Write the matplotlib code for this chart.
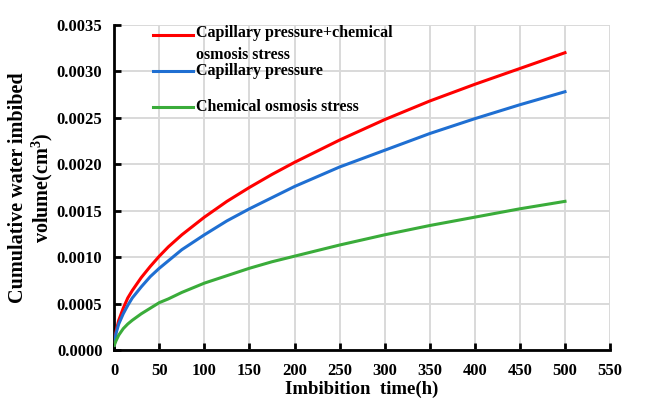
import matplotlib
matplotlib.use("Agg")
import matplotlib.pyplot as plt
from matplotlib.ticker import FormatStrFormatter, MultipleLocator

plt.rcParams['font.family'] = ['Liberation Serif', 'DejaVu Serif']
plt.rcParams['font.weight'] = 'bold'
plt.rcParams['mathtext.fontset'] = 'custom'
plt.rcParams['mathtext.rm'] = 'Liberation Serif:bold'
plt.rcParams['mathtext.default'] = 'rm'

time_h = [0, 2, 5, 10, 15, 20, 30, 40, 50, 60, 75, 100, 125, 150, 175, 200, 250, 300, 350, 400, 450, 500]
cap_chem = [0.00005, 0.00020, 0.00032, 0.00045, 0.00056, 0.00064, 0.00078, 0.00090, 0.00101, 0.00111,
            0.00124, 0.00143, 0.00160, 0.00175, 0.00189, 0.00202, 0.00226, 0.00248, 0.00268, 0.00286,
            0.00303, 0.00320]
cap = [0.00005, 0.00018, 0.00028, 0.00039, 0.00048, 0.00056, 0.00068, 0.00079, 0.00088, 0.00096,
       0.00108, 0.00124, 0.00139, 0.00152, 0.00164, 0.00176, 0.00197, 0.00215, 0.00233, 0.00249,
       0.00264, 0.00278]
chem = [0.00005, 0.00010, 0.00016, 0.00023, 0.00028, 0.00032, 0.00039, 0.00045, 0.00051, 0.00055,
        0.00062, 0.00072, 0.00080, 0.00088, 0.00095, 0.00101, 0.00113, 0.00124, 0.00134, 0.00143,
        0.00152, 0.00160]

labels = ["Capillary pressure+chemical\nosmosis stress", "Capillary pressure", "Chemical osmosis stress"]
colors = ["#ff0000", "#1f6fd2", "#3aac3a"]

fig = plt.figure(figsize=(6.49, 4.07), dpi=100)
ax = fig.add_axes([0.176, 0.14, 0.764, 0.799])

for y, c in zip([cap_chem, cap, chem], colors):
    ax.plot(time_h, y, color=c, lw=2.2, zorder=3)

ax.set_xlim(0, 550)
ax.set_ylim(0, 0.0035)
ax.xaxis.set_major_locator(MultipleLocator(50))
ax.yaxis.set_major_locator(MultipleLocator(0.0005))
ax.yaxis.set_major_formatter(FormatStrFormatter('%.4f'))
ax.grid(True, color='#d9d9d9', lw=1.4)
ax.set_axisbelow(True)
for s in ['top', 'right']:
    ax.spines[s].set_visible(False)
for s in ['left', 'bottom']:
    ax.spines[s].set_linewidth(2)
ax.tick_params(direction='in', length=5, width=2, labelsize=12)
ax.tick_params(axis='y', pad=8.5)
ax.tick_params(axis='x', pad=9)
for lab in ax.get_xticklabels() + ax.get_yticklabels():
    lab.set_fontweight('bold')

ax.set_xlabel("Imbibition  time(h)", fontsize=13.5, fontweight='bold')
ax.set_ylabel("Cumulative water imbibed\nvolume(cm$^3$)", fontsize=14.5, fontweight='bold',
              linespacing=1.1)
ax.xaxis.set_label_coords(0.5, -0.12)
ax.xaxis.label.set_va('center')
ax.yaxis.set_label_coords(-0.167, 0.5)
ax.yaxis.label.set_va('center')

# legend (manual, no frame)
handle_y = [0.969, 0.858, 0.748]
text_y = [0.9415, 0.858, 0.748]
for hy, ty, c, lab in zip(handle_y, text_y, colors, labels):
    ax.plot([0.078, 0.159], [hy, hy], transform=ax.transAxes, color=c, lw=2.2, clip_on=False)
    ax.text(0.165, ty, lab, transform=ax.transAxes, va='center', ha='left',
            fontsize=11.5, fontweight='bold', linespacing=1.5)

fig.savefig("out.png", dpi=100)
